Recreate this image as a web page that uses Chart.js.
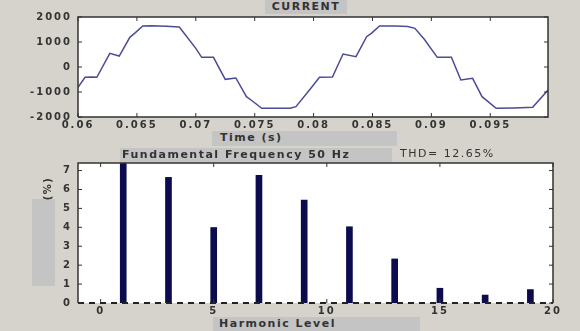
<!DOCTYPE html>
<html>
<head>
<meta charset="utf-8">
<script src="https://cdn.jsdelivr.net/npm/chart.js@4"></script>
<style>
  html, body { margin: 0; padding: 0; }
  body { width: 580px; height: 331px; background: #d6d3cc; position: relative; overflow: hidden;
         font-family: 'DejaVu Sans', sans-serif; }
  canvas { position: absolute; left: 0; }
  .box { position: absolute; background: #c4c4c4; color: #333; font-weight: bold; font-size: 11px;
         letter-spacing: 1.5px; line-height: 14px; white-space: nowrap; z-index: 2; }
  .plain { position: absolute; color: #333; font-size: 11px; letter-spacing: 1.5px; white-space: nowrap; z-index: 2; }
</style>
</head>
<body>
<canvas id="currentChart" style="top:0px"></canvas>
<canvas id="harmChart" style="top:140px"></canvas>

<div class="box" style="left:265px;top:0px;width:82px;height:14px;text-align:center">CURRENT</div>
<div class="box" style="left:212px;top:131px;width:185px;height:15px"><span style="margin-left:8px">Time (s)</span></div>
<div class="box" style="left:120px;top:148px;width:272px;height:14px"><span style="margin-left:2px">Fundamental Frequency 50 Hz</span></div>
<div class="plain" style="left:400px;top:147px">THD= 12.65%</div>
<div class="box" style="left:32px;top:199px;width:23px;height:87px"></div>
<div class="plain" style="left:36px;top:183px;transform:rotate(-90deg);transform-origin:center;font-weight:bold;font-size:10px">(%)</div>
<div class="box" style="left:213px;top:317px;width:207px;height:14px"><span style="margin-left:6px">Harmonic Level</span></div>

<script>
// current waveform
const timeValues = [0.0600, 0.0606, 0.0612, 0.0616, 0.0627, 0.0635, 0.0644, 0.0648, 0.0655, 0.0662,
  0.0675, 0.0686, 0.0700, 0.0705, 0.0715, 0.0725, 0.0734, 0.0743, 0.0748, 0.0756,
  0.0770, 0.0780, 0.0785, 0.0797, 0.0805, 0.0816, 0.0825, 0.0836, 0.0845, 0.0849,
  0.0856, 0.0870, 0.0880, 0.0886, 0.0894, 0.0905, 0.0917, 0.0925, 0.0935, 0.0943,
  0.0955, 0.0970, 0.0986, 0.0999];
const currentValues = [-812, -413, -400, -413, 547, 440, 1187, 1347, 1640, 1650,
  1630, 1600, 747, 387, 387, -493, -440, -1187, -1360, -1653,
  -1650, -1653, -1587, -893, -413, -400, 520, 413, 1213, 1347,
  1640, 1640, 1620, 1547, 1107, 387, 387, -520, -453, -1187,
  -1653, -1640, -1613, -920];

// harmonic spectrum
const harmonicOrders = [1, 3, 5, 7, 9, 11, 13, 15, 17, 19];
const harmonicPercent = [7.6, 6.64, 3.99, 6.75, 5.44, 4.03, 2.33, 0.78, 0.42, 0.71];
const baselineX = [-1, 20];
const baselineY = [0, 0];

const tickFont = { family: 'DejaVu Sans', size: 10, weight: 'bold' };
const tickColor = '#333';

// white plot area, frame, inner ticks, wide text
function framePlugin(drawBottom) {
  return {
    id: 'frame',
    beforeLayout(chart) { chart.ctx.letterSpacing = '2px'; },
    beforeDraw(chart) {
      const a = chart.chartArea, c = chart.ctx;
      c.letterSpacing = '2px';
      c.save();
      c.fillStyle = '#ffffff';
      c.fillRect(a.left, a.top, a.right - a.left, a.bottom - a.top);
      c.restore();
    },
    afterDraw(chart) {
      const a = chart.chartArea, c = chart.ctx;
      c.save();
      c.strokeStyle = '#333';
      c.lineWidth = 1.5;
      c.beginPath();
      c.moveTo(a.left, a.bottom); c.lineTo(a.left, a.top); c.lineTo(a.right, a.top); c.lineTo(a.right, a.bottom);
      if (drawBottom) c.lineTo(a.left, a.bottom);
      c.stroke();
      c.lineWidth = 1;
      c.beginPath();
      chart.scales.x.ticks.forEach(t => {
        const px = chart.scales.x.getPixelForValue(t.value);
        c.moveTo(px, a.top); c.lineTo(px, a.top + 4);
        c.moveTo(px, a.bottom); c.lineTo(px, a.bottom - 4);
      });
      chart.scales.y.ticks.forEach(t => {
        const py = chart.scales.y.getPixelForValue(t.value);
        c.moveTo(a.left, py); c.lineTo(a.left + 4, py);
        c.moveTo(a.right, py); c.lineTo(a.right - 4, py);
      });
      c.stroke();
      c.restore();
    }
  };
}

function fixWidth(w) { return scale => { scale.width = w; }; }
function fixHeight(h) { return scale => { scale.height = h; }; }

var ctx1 = document.getElementById('currentChart');
ctx1.width = 580; ctx1.height = 131;
new Chart(ctx1, {
  type: 'line',
  data: {
    datasets: [{
      data: timeValues.map((t, i) => ({ x: t, y: currentValues[i] })),
      borderColor: '#4b4b96',
      borderWidth: 1.5,
      pointRadius: 0,
      tension: 0,
      fill: false
    }]
  },
  options: {
    responsive: false,
    animation: false,
    layout: { padding: { left: 0, right: 32, top: 17, bottom: 0 } },
    plugins: { legend: { display: false }, tooltip: { enabled: false } },
    scales: {
      x: {
        type: 'linear', min: 0.06, max: 0.0999,
        afterFit: fixHeight(14),
        grid: { display: false, drawTicks: false }, border: { display: false },
        ticks: {
          stepSize: 0.005, includeBounds: false, maxRotation: 0, autoSkip: false,
          padding: 2, font: tickFont, color: tickColor,
          callback: v => String(Number(v.toFixed(3)))
        }
      },
      y: {
        min: -2000, max: 2000,
        afterFit: fixWidth(78),
        grid: { display: false, drawTicks: false }, border: { display: false },
        ticks: { stepSize: 1000, padding: 6, font: tickFont, color: tickColor, callback: v => String(v) }
      }
    }
  },
  plugins: [framePlugin(true)]
});

var ctx2 = document.getElementById('harmChart');
ctx2.width = 580; ctx2.height = 177;
new Chart(ctx2, {
  type: 'bar',
  data: {
    datasets: [{
      type: 'line',
      data: baselineX.map((x, i) => ({ x: x, y: baselineY[i] })),
      borderColor: '#222',
      borderWidth: 2,
      borderDash: [6, 5],
      pointRadius: 0,
      clip: false
    }, {
      data: harmonicOrders.map((h, i) => ({ x: h, y: harmonicPercent[i] })),
      backgroundColor: '#0b0b4d',
      barThickness: 6
    }]
  },
  options: {
    responsive: false,
    animation: false,
    layout: { padding: { left: 0, right: 27, top: 23, bottom: 0 } },
    plugins: { legend: { display: false }, tooltip: { enabled: false } },
    scales: {
      x: {
        type: 'linear', min: -1, max: 20, offset: false,
        afterFit: fixHeight(14),
        grid: { display: false, drawTicks: false }, border: { display: false },
        ticks: { stepSize: 5, includeBounds: false, maxRotation: 0, autoSkip: false,
          padding: 2, font: tickFont, color: tickColor }
      },
      y: {
        min: 0, max: 7.4,
        afterFit: fixWidth(78),
        grid: { display: false, drawTicks: false }, border: { display: false },
        ticks: { stepSize: 1, includeBounds: false, padding: 6, font: tickFont, color: tickColor }
      }
    }
  },
  plugins: [framePlugin(false)]
});
</script>
</body>
</html>
